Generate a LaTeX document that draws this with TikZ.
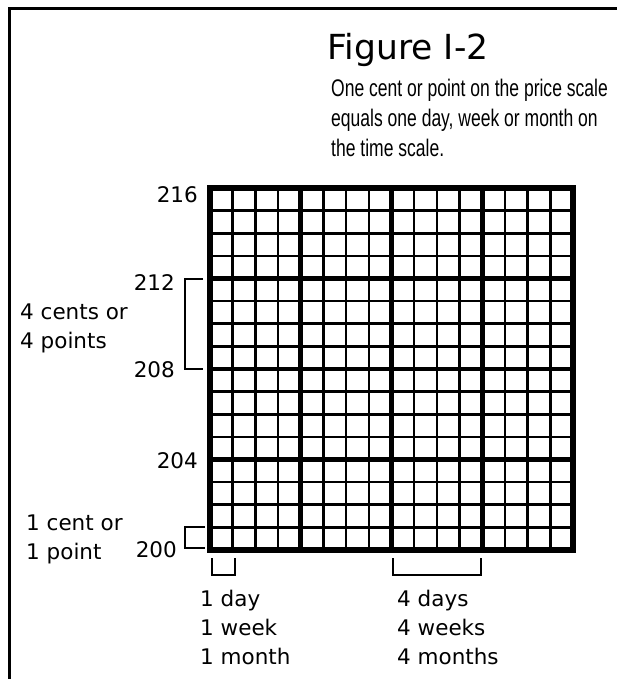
\documentclass[tikz,border=0pt]{standalone}
\usepackage{fontspec}
\setmainfont{DejaVu Sans}
\newfontfamily\descfont[FakeStretch=0.73]{Liberation Sans}
\usetikzlibrary{positioning}

\begin{document}
\begin{tikzpicture}[x=1pt, y=-1pt,
      frame/.style={line width=3pt},
      minor/.style={line width=2.6pt},
      major/.style={line width=4.6pt},
      border/.style={line width=5.5pt, line join=miter},
      brk/.style={line width=2pt, line join=miter},
      lbl/.style={inner sep=0pt, align=left,
                  font=\fontsize{21.5}{29}\selectfont},
      ttl/.style={inner sep=0pt, font=\fontsize{34.5}{40}\selectfont},
      desc/.style={inner sep=0pt, align=left,
                   font=\descfont\fontsize{24}{30}\selectfont}]
    \useasboundingbox (0,0) rectangle (617,679);

    % frame, only top and left edges show
    \draw[frame] (630,9) -- (9,9) -- (9,690);

    % heading
    \node[ttl, anchor=base] (title) at (408,60) {Figure I-2};
    \node[desc, anchor=north west] (caption) at (331,79)
      {One cent or point on the price scale\\
       equals one day, week or month on\\
       the time scale.};

    % chart grid, 16 by 16
    \coordinate (gnw) at (210,188);
    \coordinate (gse) at (573,550);
    \foreach \i in {1,...,15} {
      \draw[minor] ({210+22.6875*\i},188) -- ({210+22.6875*\i},550);
      \draw[minor] (210,{188+22.625*\i}) -- (573,{188+22.625*\i});
    }
    \foreach \i in {4,8,12} {
      \draw[major] ({210+22.6875*\i},188) -- ({210+22.6875*\i},550);
      \draw[major] (210,{188+22.625*\i}) -- (573,{188+22.625*\i});
    }
    \draw[border] (gnw) rectangle (gse);

    % price scale
    \node[lbl, anchor=base east] (p216) at (198,202) {216};
    \node[lbl, anchor=base east] (p212) at (175,290) {212};
    \node[lbl, anchor=base east] (p208) at (175,377) {208};
    \node[lbl, anchor=base east] (p204) at (198,468) {204};
    \node[lbl, anchor=base east] (p200) at (177,557) {200};

    % brackets
    \draw[brk] (203,278.5) -- (185,278.5) -- (185,369) -- (203,369);
    \draw[brk] (205,526.5) -- (185,526.5) -- (185,548) -- (205,548);
    \draw[brk] (212,558) -- (212,575) -- (235,575) -- (235,558);
    \draw[brk] (393,558) -- (393,575) -- (481,575) -- (481,558);

    \node[lbl, anchor=north west] (fourcent) at (20,304)
      {4 cents or\\4 points};
    \node[lbl, anchor=north west] (onecent) at (26,515)
      {1 cent or\\1 point};

    % time scale
    \node[lbl, anchor=north west] (oneday) at (200,590)
      {1 day\\1 week\\1 month};
    \node[lbl, anchor=north west] (fourday) at (397,590)
      {4 days\\4 weeks\\4 months};
  \end{tikzpicture}
\end{document}
